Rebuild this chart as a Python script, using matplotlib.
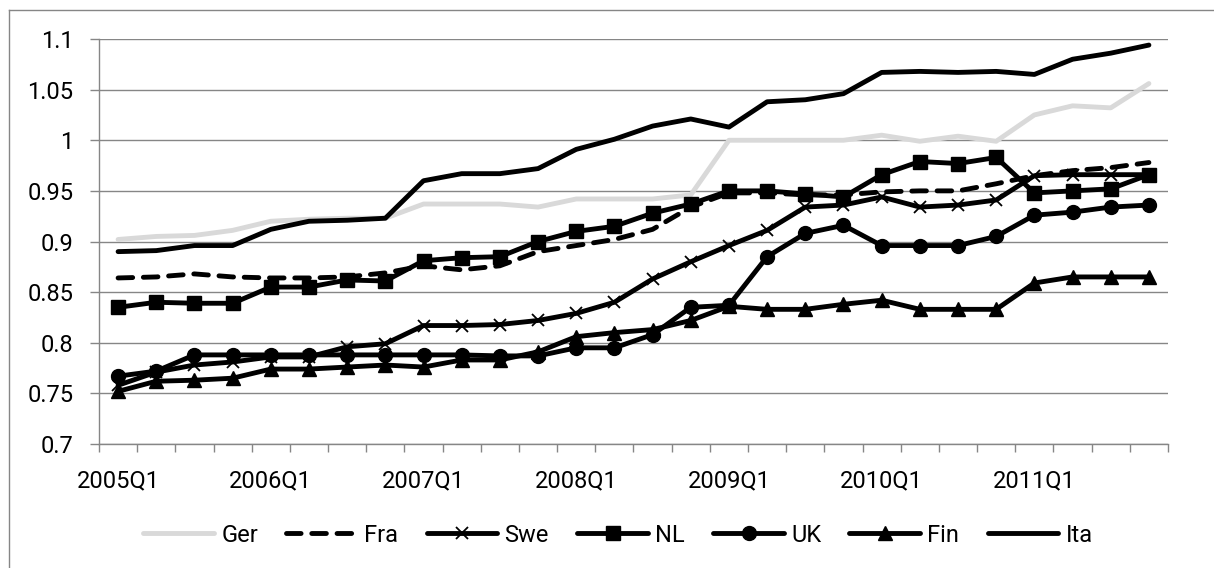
import numpy as np
import matplotlib
matplotlib.use("Agg")
import matplotlib.pyplot as plt
from matplotlib.lines import Line2D

# ---------------- data ----------------
quarters = [f"{y}Q{q}" for y in range(2005, 2012) for q in range(1, 5)]
xtick_labels = ["2005Q1", "2006Q1", "2007Q1", "2008Q1", "2009Q1", "2010Q1", "2011Q1"]
ytick_values = [0.7, 0.75, 0.8, 0.85, 0.9, 0.95, 1.0, 1.05, 1.1]
ytick_labels = ["0.7", "0.75", "0.8", "0.85", "0.9", "0.95", "1", "1.05", "1.1"]

ger = [0.902, 0.905, 0.906, 0.911, 0.920, 0.922, 0.923, 0.923, 0.937, 0.937,
       0.937, 0.934, 0.942, 0.942, 0.942, 0.946, 1.000, 1.000, 1.000, 1.000,
       1.005, 0.999, 1.004, 0.999, 1.025, 1.034, 1.032, 1.056]
fra = [0.864, 0.865, 0.868, 0.865, 0.864, 0.864, 0.865, 0.869, 0.876, 0.872,
       0.876, 0.890, 0.896, 0.902, 0.912, 0.934, 0.948, 0.948, 0.946, 0.946,
       0.949, 0.950, 0.950, 0.957, 0.965, 0.970, 0.973, 0.978]
swe = [0.758, 0.771, 0.778, 0.781, 0.786, 0.786, 0.796, 0.799, 0.817, 0.817,
       0.818, 0.822, 0.829, 0.840, 0.863, 0.880, 0.896, 0.911, 0.934, 0.936,
       0.944, 0.934, 0.936, 0.941, 0.965, 0.966, 0.966, 0.966]
nl = [0.835, 0.840, 0.839, 0.839, 0.855, 0.855, 0.862, 0.861, 0.881, 0.884,
      0.885, 0.900, 0.910, 0.915, 0.928, 0.937, 0.950, 0.950, 0.947, 0.944,
      0.966, 0.979, 0.977, 0.983, 0.948, 0.950, 0.952, 0.966]
uk = [0.767, 0.772, 0.788, 0.788, 0.788, 0.788, 0.788, 0.788, 0.788, 0.788,
      0.787, 0.787, 0.795, 0.795, 0.808, 0.835, 0.837, 0.885, 0.908, 0.916,
      0.896, 0.896, 0.896, 0.905, 0.926, 0.929, 0.934, 0.936]
fin = [0.752, 0.762, 0.763, 0.765, 0.774, 0.774, 0.776, 0.778, 0.776, 0.783,
       0.783, 0.791, 0.806, 0.810, 0.813, 0.822, 0.836, 0.833, 0.833, 0.838,
       0.842, 0.833, 0.833, 0.833, 0.859, 0.865, 0.865, 0.865]
ita = [0.890, 0.891, 0.896, 0.896, 0.912, 0.920, 0.921, 0.923, 0.960, 0.967,
       0.967, 0.972, 0.991, 1.001, 1.014, 1.021, 1.013, 1.038, 1.040, 1.046,
       1.067, 1.068, 1.067, 1.068, 1.065, 1.080, 1.086, 1.094]

series_names = ["Ger", "Fra", "Swe", "NL", "UK", "Fin", "Ita"]

# ---------------- style ----------------
plt.rcParams["font.family"] = ["Roboto", "DejaVu Sans"]
FS = 17
GRAY = "#868686"
LW = 3.5

fig = plt.figure(figsize=(12.14, 5.68), dpi=100)
ax = fig.add_axes([99 / 1214, 1 - 444 / 568, (1168 - 99) / 1214, (444 - 39) / 568])

# outer chart border (extends beyond the image right/bottom)
fig.add_artist(Line2D([9 / 1214, 9 / 1214], [0, 1 - 10 / 568], color=GRAY, lw=1.0,
                      transform=fig.transFigure))
fig.add_artist(Line2D([9 / 1214, 1], [1 - 10 / 568, 1 - 10 / 568], color=GRAY, lw=1.0,
                      transform=fig.transFigure))

x = np.arange(len(quarters))
common = dict(solid_joinstyle="round", solid_capstyle="round")

ax.plot(x, ger, color="#d9d9d9", lw=LW, label="Ger", zorder=3, **common)
ax.plot(x, fra, color="black", lw=LW, label="Fra", zorder=4,
        dashes=(3.0, 2.2), dash_capstyle="round", dash_joinstyle="round")
ax.plot(x, swe, color="black", lw=LW, marker="x", ms=9, mew=1.3, label="Swe",
        zorder=5, **common)
ax.plot(x, nl, color="black", lw=LW, marker="s", ms=9.5, label="NL", zorder=6, **common)
ax.plot(x, uk, color="black", lw=LW, marker="o", ms=10, label="UK", zorder=7, **common)
ax.plot(x, fin, color="black", lw=LW, marker="^", ms=10, label="Fin", zorder=8, **common)
ax.plot(x, ita, color="black", lw=LW, label="Ita", zorder=9, **common)

ax.set_xlim(-0.5, len(quarters) - 0.5)
ax.set_ylim(0.7, 1.1)

ax.set_yticks(ytick_values)
ax.set_yticklabels(ytick_labels, fontsize=FS)
ax.yaxis.grid(True, color=GRAY, lw=1.0)
ax.set_axisbelow(True)

ax.set_xticks(np.arange(-0.5, len(quarters), 1.0))
ax.set_xticklabels([])
label_pos = [quarters.index(q) for q in xtick_labels]
ax.set_xticks(label_pos, minor=True)
ax.set_xticklabels(xtick_labels, minor=True, fontsize=FS)

ax.tick_params(axis="x", which="major", length=5.5, width=1.0, color=GRAY, direction="out")
ax.tick_params(axis="x", which="minor", length=0, pad=18)
ax.tick_params(axis="y", length=6.5, width=1.0, color=GRAY, direction="out", pad=12)

for s in ["top", "right"]:
    ax.spines[s].set_visible(False)
for s in ["left", "bottom"]:
    ax.spines[s].set_color(GRAY)
    ax.spines[s].set_linewidth(1.0)

leg = fig.legend(loc="center", bbox_to_anchor=(618 / 1214, 1 - 535 / 568), ncol=7,
                 frameon=False, fontsize=FS, handlelength=3.0, handletextpad=0.3,
                 columnspacing=1.2, borderpad=0)

fig.savefig("out.png", dpi=100, facecolor="white")
